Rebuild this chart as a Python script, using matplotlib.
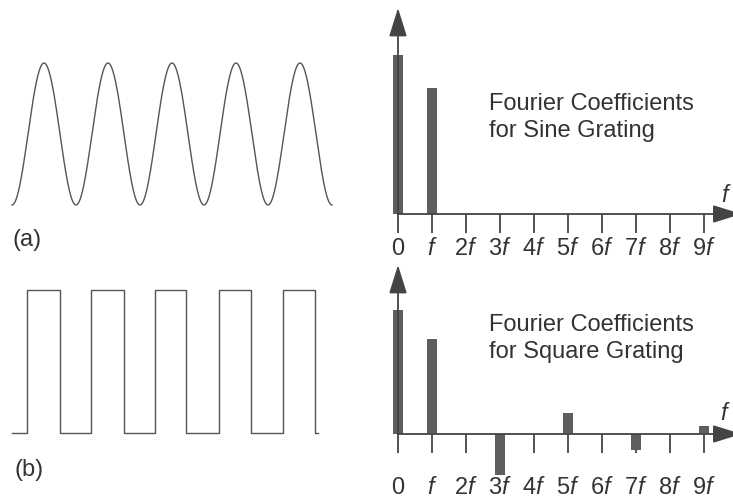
import numpy as np
import matplotlib
matplotlib.use("Agg")
import matplotlib.pyplot as plt

plt.rcParams['font.family'] = ['Liberation Sans', 'DejaVu Sans']
plt.rcParams['mathtext.fontset'] = 'custom'
plt.rcParams['mathtext.rm'] = 'Liberation Sans'
plt.rcParams['mathtext.it'] = 'Liberation Sans:italic'

# data
cycles = 5
harmonics = list(range(10))
tick_labels = ['0', '$f$', '2$f$', '3$f$', '4$f$', '5$f$', '6$f$', '7$f$', '8$f$', '9$f$']
sine_coef = [1.0, 0.79]                       # at 0 and f
square_coef = [1.0, 0.77, 0, -0.33, 0, 0.17, 0, -0.13, 0, 0.065]
square_rises = [0.24, 1.24, 2.24, 3.24, 4.24]  # in cycles
square_falls = [0.75, 1.75, 2.72, 3.73, 4.73]
square_end = 4.78

W, H = 733, 504
line_col = '#555555'
text_col = '#333333'
bar_col = '#5e5e5e'
fs = 17

fig = plt.figure(figsize=(W / 100, H / 100), dpi=100)


def make_ax(x0, x1, y0, y1):
    # pixel box (top-left origin) -> axes
    return fig.add_axes([x0 / W, 1 - y1 / H, (x1 - x0) / W, (y1 - y0) / H])


# ---- (a) sine grating ----
ax = make_ax(0, 380, 0, 260)
t = np.linspace(0, cycles, 800)
ax.plot(t, -np.cos(2 * np.pi * t), color=line_col, lw=1.0)
ax.set_xlim(-12 / 64, 368 / 64)
ax.set_ylim((134 - 260) / 71, 134 / 71)
ax.axis('off')

# ---- (b) square grating ----
ax = make_ax(0, 380, 262, 504)
xs, ys = [0], [-1]
for r, f in zip(square_rises, square_falls):
    xs += [r, r, f, f]
    ys += [-1, 1, 1, -1]
xs.append(square_end)
ys.append(-1)
ax.plot(xs, ys, color=line_col, lw=1.0)
ax.set_xlim(-12 / 64, 368 / 64)
ax.set_ylim((361.5 - 504) / 71.5, (361.5 - 262) / 71.5)
ax.axis('off')

fig.text(13 / W, 1 - 240 / H, '(a)', fontsize=fs, color=text_col, va='center')
fig.text(14 / W, 1 - 470 / H, '(b)', fontsize=fs, color=text_col, va='center')


def spectrum(y0, y1, zero_px, scale, coefs, tip, pad, title_y, title):
    ax = make_ax(380, 733, y0, y1)
    ax.bar(harmonics[:len(coefs)], coefs, width=0.32, color=bar_col,
           edgecolor='#3c3c3c', linewidth=0, zorder=3)
    ax.set_xlim((380 - 398) / 34, (733 - 398) / 34)
    ax.set_ylim((zero_px - y1) / scale, (zero_px - y0) / scale)
    for s in ['top', 'right', 'left']:
        ax.spines[s].set_visible(False)
    ax.spines['bottom'].set_position(('data', 0))
    ax.spines['bottom'].set_color('none')
    ax.set_yticks([])
    ax.set_xticks(harmonics)
    ax.set_xticklabels(tick_labels)
    ax.tick_params(axis='x', direction='out', length=14, width=1.3,
                   color='#444444', labelcolor=text_col, labelsize=fs, pad=pad)
    ap = dict(arrowstyle='-|>,head_length=0.8,head_width=0.25',
              mutation_scale=22, color='#444444', lw=1.3, shrinkA=0, shrinkB=0)
    ax.annotate('', xy=(0, tip), xytext=(0, 0), arrowprops=ap, zorder=4,
                annotation_clip=False)
    ax.annotate('', xy=(10.1, 0), xytext=(0, 0), arrowprops=ap, zorder=4,
                annotation_clip=False)
    fig.text(489 / W, 1 - title_y / H, title, fontsize=fs, color=text_col,
             va='top', linespacing=1.3)
    return ax


spectrum(0, 260, 214, 159, sine_coef, (214 - 8) / 159, 3, 93,
         'Fourier Coefficients\nfor Sine Grating')
spectrum(262, 504, 434, 124, square_coef, (434 - 265) / 124, 17, 314,
         'Fourier Coefficients\nfor Square Grating')

fig.text(721 / W, 1 - 196 / H, '$f$', fontsize=fs, color=text_col, va='center')
fig.text(720 / W, 1 - 414 / H, '$f$', fontsize=fs, color=text_col, va='center')

fig.savefig('out.png', dpi=100)
